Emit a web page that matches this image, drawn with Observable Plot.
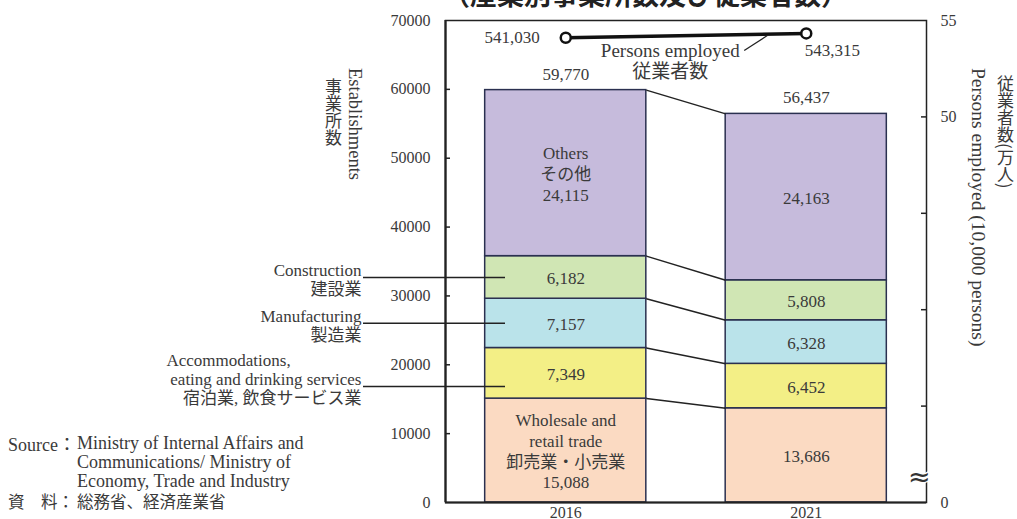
<!DOCTYPE html>
<html>
<head>
<meta charset="utf-8">
<script src="https://cdn.jsdelivr.net/npm/d3@7"></script>
<script src="https://cdn.jsdelivr.net/npm/@observablehq/plot@0.6"></script>
<style>
  html, body { margin: 0; padding: 0; background: #fff; }
  #wrap { position: relative; width: 1017px; height: 519px; overflow: hidden; font-family: 'Liberation Serif', 'Noto Sans CJK JP', serif; color: #3a3a3a; }
  #chart { position: absolute; left: 0; top: 0; }
  .ov { position: absolute; white-space: nowrap; }
  .vert { writing-mode: vertical-rl; line-height: 20px; }
  .jp { font-family: 'Noto Sans CJK JP', sans-serif; }
</style>
</head>
<body>
<div id="wrap">
  <div id="chart"></div>
  <div class="ov jp" style="left:443px; top:-20px; font-size:27px; font-weight:700; line-height:1; color:#222;">（産業別事業所数及び従業者数）</div>
  <div class="ov vert" style="left:345px; top:68px; font-size:18.5px;">Establishments</div>
  <div class="ov vert jp" style="left:323px; top:78px; font-size:17px;">事業所数</div>
  <div class="ov vert" style="left:968px; top:68px; font-size:19.5px;">Persons employed (10,000 persons)</div>
  <div class="ov vert jp" style="left:995px; top:75px; font-size:17px;">従業者数(万人)</div>
  <div class="ov" style="left:8px; top:434px; font-size:18px; line-height:19px;">
    <div style="display:flex;"><span style="width:69px;">Source<span class="jp">：</span></span><span>Ministry of Internal Affairs and<br>Communications/ Ministry of<br>Economy, Trade and Industry</span></div>
    <div style="display:flex; font-size:16.5px; line-height:20px;" class="jp"><span style="width:69px;">資　料：</span><span>総務省、経済産業省</span></div>
  </div>
</div>
<script>
// ---- data ----
const years = ["2016", "2021"];
const industries = ["Wholesale and retail trade", "Accommodations, eating and drinking services", "Manufacturing", "Construction", "Others"];
const establishments2016 = [15088, 7349, 7157, 6182, 24115];
const establishments2021 = [13686, 6452, 6328, 5808, 24163];
const totals = [59770, 56437];
const personsEmployed = [541030, 543315];
const industryColors = ["#fbdac2", "#f3ef86", "#bae3ea", "#d0e6b4", "#c6bbdc"];
const inBarNames2016 = ["Wholesale and\nretail trade\n卸売業・小売業", "", "", "", "Others\nその他"];
const sideLabels = ["eating and drinking services\n宿泊業, 飲食サービス業", "Manufacturing\n製造業", "Construction\n建設業"];
const sideLabelFirstLine = ["Accommodations,"];
const sideLabelY = [16850, 26015, 32685];
const leftTicks = [0, 10000, 20000, 30000, 40000, 50000, 60000, 70000];
const rightDomain = [30, 55];
const rightTicks = [55, 50, 45, 40, 35, 30];
const rightTickLabels = ["55", "50", "", "", "", "0"];
const personsLabel = ["Persons employed\n従業者数"];
const personsLabelAt = [{x: 0.4345, y: 64116}];
const personsLeader = [{x1: 0.742, y1: 65640, x2: 0.838, y2: 67819}];

// ---- derived tables ----
const yMax = 70000;
const toLeft = v => (v - rightDomain[0]) / (rightDomain[1] - rightDomain[0]) * yMax; // 万人 -> left units
const fmt = d3.format(",");
const series = [establishments2016, establishments2021];
const segs = [];
series.forEach((vals, i) => {
  let acc = 0;
  vals.forEach((v, j) => {
    const name = i === 0 ? inBarNames2016[j] : "";
    segs.push({i, j, industry: industries[j], v, y1: acc, y2: acc + v,
      label: name ? name + "\n" + fmt(v) : fmt(v)});
    acc += v;
  });
});
const hw = 0.335;
const links = industries.map((_, j) => ({
  y1: segs.find(s => s.i === 0 && s.j === j).y2,
  y2: segs.find(s => s.i === 1 && s.j === j).y2
}));
const persons = personsEmployed.map((v, i) => ({i, v, y: toLeft(v / 10000)}));
const totalRows = totals.map((t, i) => ({i, t}));
const sideRows = sideLabels.map((t, k) => ({t, y: sideLabelY[k]}));
const rightMap = new Map(rightTicks.map((t, k) => [toLeft(t), rightTickLabels[k]]));

const font = "'Liberation Serif', 'Noto Sans CJK JP', serif";
const ink = "#3a3a3a";

const chart = Plot.plot({
  width: 1017, height: 519,
  marginLeft: 445, marginRight: 91, marginTop: 20, marginBottom: 17,
  x: {domain: [-0.5, 1.5], axis: null},
  y: {domain: [0, yMax], axis: null},
  style: {fontFamily: font, fontSize: "16px", color: ink, background: "white", overflow: "visible"},
  marks: [
    // bars
    Plot.rect(segs, {x1: d => d.i - hw, x2: d => d.i + hw, y1: "y1", y2: "y2",
      fill: d => industryColors[d.j], stroke: "#2a3050", strokeWidth: 1.5}),
    // connectors between bars
    Plot.link(links, {x1: hw, x2: 1 - hw, y1: "y1", y2: "y2", stroke: "#222", strokeWidth: 1.5}),
    // labels inside bars
    Plot.text(segs, {x: "i", y: d => (d.y1 + d.y2) / 2, text: "label", fontSize: 17, lineHeight: 1.22, fill: ink}),
    // totals
    Plot.text(totalRows, {x: "i", y: "t", text: d => fmt(d.t), dy: -16, fontSize: 17, fill: ink}),
    // side leader lines
    Plot.ruleY(sideRows, {y: "y", insetLeft: -82, insetRight: 421, stroke: "#222", strokeWidth: 1.5}),
    Plot.text(sideRows, {y: "y", text: "t", frameAnchor: "left", textAnchor: "end", dx: -84, dy: 2, fontSize: 17, lineHeight: 1.15, fill: ink}),
    Plot.text(sideLabelFirstLine, {y: sideLabelY[0], text: d => d, frameAnchor: "left", textAnchor: "start", dx: -279, dy: -26, fontSize: 17, fill: ink}),
    // frame & axes
    Plot.frame({stroke: "#222", strokeWidth: 1.5}),
    Plot.ruleX([-0.5], {stroke: "#222", strokeWidth: 2.2}),
    Plot.ruleY([0], {stroke: "#222", strokeWidth: 2.2}),
    Plot.ruleY(leftTicks.slice(1, -1), {y: d => d, insetRight: 476, stroke: "#222", strokeWidth: 1.5}),
    Plot.ruleY(rightTicks.slice(1, -1).map(toLeft), {y: d => d, insetLeft: 476, stroke: "#222", strokeWidth: 1.5}),
    Plot.axisY({ticks: leftTicks, anchor: "left", tickSize: 0, tickPadding: 15, tickFormat: d => String(d), label: null, fontSize: 16, fill: ink}),
    Plot.axisY({ticks: rightTicks.map(toLeft), anchor: "right", tickSize: 0, tickPadding: 14, tickFormat: d => rightMap.get(d) ?? "", label: null, fontSize: 16, fill: ink}),
    Plot.axisX({ticks: [0, 1], tickFormat: i => years[i], tickSize: 0, tickPadding: 4, label: null, fontSize: 16, fill: ink}),
    Plot.text(["≈"], {text: d => d, frameAnchor: "bottom-right", dx: 4, dy: -17, fontSize: 27, fill: "#333", stroke: "white", strokeWidth: 2.5, paintOrder: "stroke", fontFamily: "DejaVu Sans"}),
    // persons employed line
    Plot.line(persons, {x: "i", y: "y", stroke: "#111", strokeWidth: 3.5}),
    Plot.dot(persons, {x: "i", y: "y", r: 5, fill: "white", stroke: "#111", strokeWidth: 2.5}),
    Plot.text(persons.slice(0, 1), {x: "i", y: "y", text: d => fmt(d.v), textAnchor: "end", dx: -26, fontSize: 17, fill: ink}),
    Plot.text(persons.slice(1), {x: "i", y: "y", text: d => fmt(d.v), dx: 26, dy: 17, fontSize: 17, fill: ink}),
    Plot.link(personsLeader, {x1: "x1", y1: "y1", x2: "x2", y2: "y2", stroke: "#222", strokeWidth: 1.3}),
    Plot.text(personsLabel, {x: personsLabelAt[0].x, y: personsLabelAt[0].y, text: d => d, fontSize: 19, lineHeight: 1.1, fill: ink})
  ]
});
document.getElementById("chart").appendChild(chart);
</script>
</body>
</html>
